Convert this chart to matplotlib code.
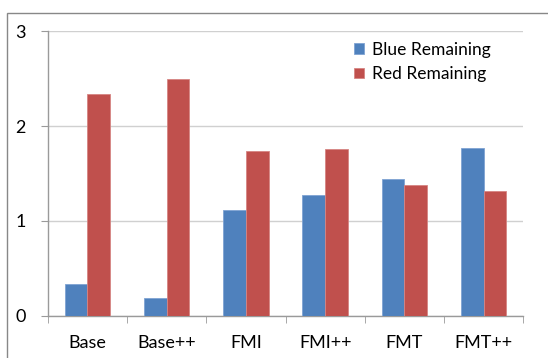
import numpy as np
import matplotlib
matplotlib.use("Agg")
import matplotlib.pyplot as plt
from matplotlib.patches import Rectangle

# data
categories = ["Base", "Base++", "FMI", "FMI++", "FMT", "FMT++"]
blue_remaining = [0.34, 0.19, 1.11, 1.27, 1.44, 1.77]
red_remaining = [2.34, 2.50, 1.74, 1.76, 1.38, 1.32]

plt.rcParams["font.family"] = ["Lato", "DejaVu Sans"]
plt.rcParams["font.size"] = 13

fig = plt.figure(figsize=(5.48, 3.58), dpi=100)
ax = fig.add_axes([0.087, 0.118, 0.868, 0.795])

# outer chart frame
fig.patches.append(Rectangle((7 / 548, -0.1), 1.2, 0.1 + 1 - 13 / 358,
                             transform=fig.transFigure, fill=False,
                             edgecolor="#888888", linewidth=1.0))

x = np.arange(len(categories))
w = 0.286
ax.bar(x - w / 2, blue_remaining, w, color="#4F81BD", edgecolor="#7FA3D3",
       linewidth=0.6, label="Blue Remaining", zorder=3)
ax.bar(x + w / 2, red_remaining, w, color="#C0504D", edgecolor="#D68583",
       linewidth=0.6, label="Red Remaining", zorder=3)

ax.set_xlim(-0.5, len(categories) - 0.5)
ax.set_ylim(0, 3)
ax.set_yticks([0, 1, 2, 3])
ax.set_xticks(x)
ax.set_xticklabels(categories)
ax.set_xticks(np.arange(-0.5, len(categories)), minor=True)

ax.grid(axis="y", color="#D0D0D0", linewidth=1.0, zorder=0)
ax.set_axisbelow(True)
for s in ["top", "right"]:
    ax.spines[s].set_visible(False)
for s in ["left", "bottom"]:
    ax.spines[s].set_color("#9A9A9A")
    ax.spines[s].set_linewidth(1.0)

ax.tick_params(axis="y", length=5, color="#9A9A9A", pad=11, labelcolor="black")
ax.tick_params(axis="x", which="major", length=0, pad=14)
ax.tick_params(axis="x", which="minor", length=5, color="#9A9A9A")

ax.legend(loc="upper left", bbox_to_anchor=(0.612, 1.018), frameon=False,
          handlelength=0.55, handleheight=0.55, handletextpad=0.45,
          labelspacing=0.5, fontsize=12.5)

fig.savefig("out.png", dpi=100)
